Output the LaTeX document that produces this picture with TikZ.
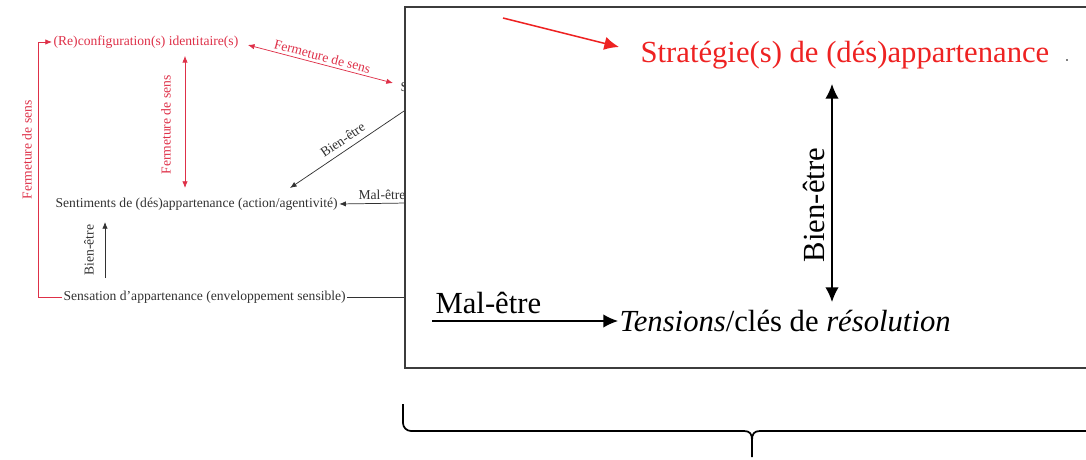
\documentclass[tikz,border=0pt]{standalone}
\usepackage{fontspec}
\setmainfont{Liberation Serif}
\usetikzlibrary{arrows.meta,calc}
\definecolor{sred}{RGB}{222,48,72}
\definecolor{bred}{RGB}{238,34,34}
\definecolor{boxgray}{RGB}{60,60,60}
\definecolor{sgray}{RGB}{50,50,50}
\tikzset{
  smalltext/.style={font=\fontsize{10.2}{12}\selectfont, inner sep=1pt},
  bigtext/.style={font=\fontsize{23}{27}\selectfont, inner sep=1pt},
  sarrow/.style={-{Latex[length=5pt,width=4pt]}, line width=0.55pt},
  sdarrow/.style={{Latex[length=5pt,width=4pt]}-{Latex[length=5pt,width=4pt]}, line width=0.55pt},
  barrow/.style={-{Latex[length=11pt,width=10pt]}, line width=1pt},
  bdarrow/.style={{Latex[length=11pt,width=10pt]}-{Latex[length=11pt,width=10pt]}, line width=1pt},
}
\begin{document}
\begin{tikzpicture}[x=0.75pt,y=-0.75pt]
\useasboundingbox (0,0) rectangle (1086,460);
\clip (0,0) rectangle (1086,460);

% ---- small background diagram ----
\node[smalltext, sred, anchor=west] (reconf) at (52,42) {(Re)configuration(s) identitaire(s)};
\node[smalltext, sgray, anchor=west] (sent) at (54,204) {Sentiments de (dés)appartenance (action/agentivité)};
\node[smalltext, sgray, anchor=west] (sens) at (62,297) {Sensation d’appartenance (enveloppement sensible)};
\node[smalltext, sgray, anchor=west] (strat) at (399,88) {Stratégie(s) de (dés)appartenance};

% red loop on the left
\draw[sred, sarrow] (sens.west) -- (38,297) |- (reconf.west);
\node[smalltext, sred, rotate=90] (fs1) at (27,150) {Fermeture de sens};

% red vertical double arrow
\draw[sred, sdarrow] (reconf.south -| 185,0) ++(0,6) -- (185,188);
\node[smalltext, sred, rotate=90] (fs2) at (166,125) {Fermeture de sens};

% red diagonal double arrow
\draw[sred, sdarrow] ($(reconf.east)+(8,3)$) -- ($(strat.west)+(-6,-5)$)
  node[midway, above=1pt, sloped, smalltext, sred] (fs3) {Fermeture de sens};

% black connectors
\coordinate (bwstart) at (407,109);
\draw[sgray, sarrow] (bwstart) -- (290,188)
  node[midway, above=3pt, sloped, smalltext, sgray] (bw1) {Bien-être};
\coordinate (mestart) at (407,203);
\draw[sgray, sarrow] (mestart) -- (sent.east);
\node[smalltext, sgray, anchor=south] (me1) at (382,201) {Mal-être};
\draw[sgray, sarrow] (105,278) -- (105,222);
\node[smalltext, sgray, rotate=90] (bw2) at (89,250) {Bien-être};
\coordinate (sensend) at (407,297);
\draw[sgray, line width=0.55pt] (sens.east) -- (sensend);

% ---- big overlay box ----
\draw[boxgray, line width=1.2pt, fill=white] (1100,7) -- (405,7) -- (405,368) -- (1100,368);

\node[bigtext, bred, anchor=west] (stratB) at (639,55) {Stratégie(s) de (dés)appartenance};
\node[circle, fill=black, inner sep=0.5pt] (dot) at (1067,60) {};
\node[bigtext, anchor=west] (tens) at (618,321) {\textit{Tensions}/clés de \textit{résolution}};

\coordinate (redstart) at (503,18);
\draw[bred, barrow, line width=1.1pt] (redstart) -- ($(stratB.west)+(-20,-8)$);

\draw[black, bdarrow] (832,84) -- (832,302);
\node[bigtext, rotate=90] (bwB) at (814,205) {Bien-être};

\coordinate (mestartB) at (432,321);
\draw[black, barrow] (mestartB) -- (tens.west);
\node[bigtext, anchor=south west] (meB) at (434,315) {Mal-être};

% ---- brace ----
\draw[black, line width=1.3pt, rounded corners=6] (403,404) -- (403,431) -- (744,431);
\draw[black, line width=1.3pt] (744,431) .. controls (750,431) and (752,434) .. (752,440) -- (752,457);
\draw[black, line width=1.3pt] (1100,431) -- (760,431) .. controls (754,431) and (752,434) .. (752,440);
\end{tikzpicture}
\end{document}
